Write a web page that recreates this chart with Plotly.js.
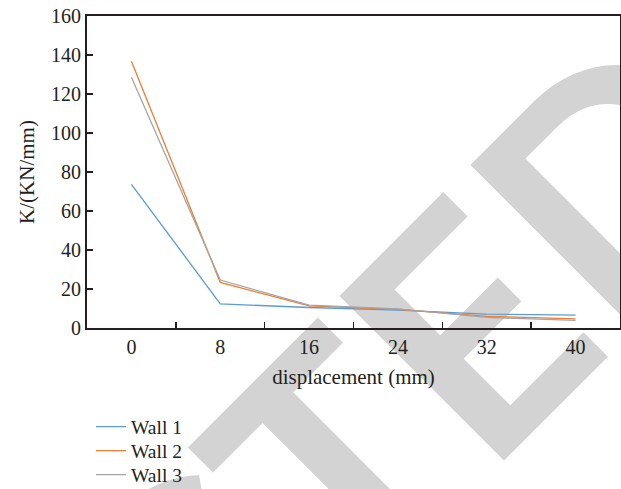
<!DOCTYPE html>
<html>
<head>
<meta charset="utf-8">
<script src="https://cdn.plot.ly/plotly-3.0.1.min.js"></script>
<style>
  html, body { margin: 0; padding: 0; background: #ffffff; }
  #chart { width: 621px; height: 489px; }
</style>
</head>
<body>
<div id="chart"></div>
<script>
// Data
const displacement = ['0', '8', '16', '24', '32', '40'];
const wall1 = [73.7, 12.4, 10.5, 9.2, 7.1, 6.6];
const wall2 = [136.8, 23.4, 11.3, 9.6, 6.0, 4.7];
const wall3 = [128.6, 24.6, 11.7, 9.8, 5.4, 3.9];
const seriesNames = ['Wall 1', 'Wall 2', 'Wall 3'];
const seriesColors = ['#5B9BD5', '#ED7D31', '#A5A5A5'];
const yTicks = [0, 20, 40, 60, 80, 100, 120, 140, 160];
const watermarkText = 'RETRACTED';

const textColor = '#231f20';
const serif = '"Liberation Serif", "Times New Roman", serif';
const wmFamily = 'Lato';

// Plot area (pixels) and watermark placement targets
const M = { l: 87, r: 1, t: 16, b: 161 };
const W = 621, H = 489;
const plotW = W - M.l - M.r, plotH = H - M.t - M.b;

function watermarkPlacement() {
  // target: stem of the 'T' before 'ED' centred on x - y = -132, baseline on x + y = 965,
  // cap height 232 px, text rotated -45 degrees.
  let size = 324, cx = 10, cy = 791;
  try {
    const ctx = document.createElement('canvas').getContext('2d');
    ctx.font = 'bold 100px ' + wmFamily;
    const capRatio = ctx.measureText('E').actualBoundingBoxAscent / 100;
    size = Math.round(232 / capRatio);
    ctx.font = 'bold ' + size + 'px ' + wmFamily;
    const full = ctx.measureText(watermarkText);
    const pre = ctx.measureText(watermarkText.slice(0, 6)).width;
    const tm = ctx.measureText('T');
    const tCenter = pre + (tm.actualBoundingBoxRight - tm.actualBoundingBoxLeft) / 2;
    const asc = full.fontBoundingBoxAscent, desc = full.fontBoundingBoxDescent;
    const sT = -132 / Math.SQRT2;
    const tB = 965 / Math.SQRT2;
    const sC = sT - (tCenter - full.width / 2);
    const tC = tB - (asc - desc) / 2;
    cx = (sC + tC) / Math.SQRT2;
    cy = (tC - sC) / Math.SQRT2;
  } catch (e) {}
  return { size, x: (cx - M.l) / plotW, y: (H - M.b - cy) / plotH };
}
const wm = watermarkPlacement();

const legendIds = ['legend', 'legend2', 'legend3'];
const traces = [wall1, wall2, wall3].map((vals, i) => ({
  type: 'scatter',
  mode: 'lines',
  x: displacement,
  y: vals,
  name: seriesNames[i],
  legend: legendIds[i],
  line: { color: seriesColors[i], width: 1.3 }
}));

function legendAt(yPx) {
  return {
    x: (91 - M.l) / plotW, xanchor: 'left',
    y: (H - M.b - yPx) / plotH, yanchor: 'middle',
    orientation: 'v',
    font: { family: serif, size: 19.5, color: textColor },
    bgcolor: 'rgba(0,0,0,0)'
  };
}

const axisCommon = {
  ticks: 'inside',
  ticklen: 6,
  tickwidth: 1.5,
  tickcolor: textColor,
  showline: true,
  linecolor: textColor,
  linewidth: 2,
  mirror: true,
  showgrid: false,
  zeroline: false,
  tickfont: { family: serif, size: 20, color: textColor }
};

const layout = {
  width: W,
  height: H,
  margin: Object.assign({}, M, { autoexpand: false }),
  paper_bgcolor: '#ffffff',
  plot_bgcolor: 'rgba(0,0,0,0)',
  font: { family: serif, size: 20, color: textColor },
  showlegend: true,
  legend: legendAt(427),
  legend2: legendAt(451),
  legend3: legendAt(475),
  xaxis: Object.assign({}, axisCommon, {
    type: 'category',
    categoryorder: 'array',
    categoryarray: displacement,
    range: [-0.5, 5.5],
    tickson: 'boundaries',
    title: { text: 'displacement (mm)', font: { family: serif, size: 21, color: textColor }, standoff: 12 }
  }),
  yaxis: Object.assign({}, axisCommon, {
    range: [0, 160],
    tickvals: yTicks,
    ticktext: yTicks.map(String),
    title: { text: 'K/(KN/mm)', font: { family: serif, size: 21, color: textColor } }
  }),
  annotations: [{
    text: watermarkText,
    xref: 'paper', yref: 'paper',
    x: wm.x, y: wm.y,
    xanchor: 'center', yanchor: 'middle',
    textangle: -45,
    showarrow: false,
    borderpad: 0,
    font: { family: wmFamily + ', "Liberation Sans", sans-serif', size: wm.size, color: '#d3d3d3', weight: 'bold' }
  }]
};

Plotly.newPlot('chart', traces, layout, { staticPlot: true, displayModeBar: false }).then(gd => {
  // Put the watermark behind the data lines and axes, as in the reference.
  try {
    const ann = gd.querySelector('.annotation');
    const below = gd.querySelector('.main-svg .layer-below');
    if (ann && below) below.appendChild(ann);
  } catch (e) {}
});
</script>
</body>
</html>
